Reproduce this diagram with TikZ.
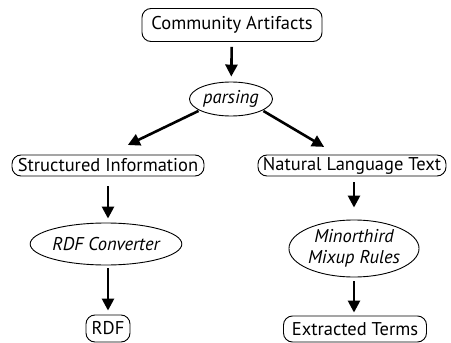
\documentclass[tikz,border=0pt]{standalone}
\usepackage{fontspec}
\setmainfont{PT Sans}
\usetikzlibrary{shapes.geometric,arrows.meta}

\begin{document}
\begin{tikzpicture}[x=1pt,y=-1pt,
	artifact/.style={draw,line width=0.9pt,rounded corners=9pt,inner sep=1pt,font=\fontsize{18.5}{20}\selectfont},
	process/.style={draw,ellipse,line width=0.9pt,inner sep=0pt,align=center,font=\itshape\fontsize{18.5}{21}\selectfont},
	flow/.style={line width=2.6pt,-{Triangle[length=12pt,width=12pt]}}]
			%%%%% START %%%%%
			\def\xmid{232}
			\def\xleft{108}
			\def\xright{352}
			\useasboundingbox (0,0) rectangle (451,343);
			
			\node[artifact,minimum width=180pt,minimum height=33pt] (community) at (\xmid,25) {Community Artifacts};
			\node[process,minimum width=83pt,minimum height=34pt] (parsing) at (231,99) {parsing};
			
			\node[artifact,minimum width=192pt,minimum height=21pt] (structured) at (\xleft,165.5) {Structured Information};
			\node[artifact,minimum width=188pt,minimum height=21pt] (natural) at (\xright,165.5) {Natural Language Text};
			
			\node[process,minimum width=122pt,minimum height=42pt] (converter) at (106,244) {RDF Converter};
			\node[process,minimum width=117pt,minimum height=57pt] (mixup) at (354,248.5) {Minorthird\\Mixup Rules};
			
			\node[artifact,minimum width=44pt,minimum height=27pt] (rdf) at (\xleft,328.5) {RDF};
			\node[artifact,minimum width=143pt,minimum height=26pt] (terms) at (355,329) {Extracted Terms};
			
			\draw[flow,shorten <=5pt,shorten >=5pt] (community) -- (parsing);
			\draw[flow,shorten <=1pt,shorten >=22pt] (parsing.200) -- (structured.north);
			\draw[flow,shorten <=1pt,shorten >=15pt] (parsing.-20) -- ([xshift=-15pt]natural.north);
			\draw[flow,shorten <=10pt,shorten >=4pt] (structured.south) -- (structured.south |- converter.north);
			\draw[flow,shorten <=6pt,shorten >=12pt] (mixup.north |- natural.south) -- (mixup.north);
			\draw[flow,shorten <=3pt,shorten >=4pt] (rdf.north |- converter.south) -- (rdf.north);
			\draw[flow,shorten <=4pt,shorten >=3pt] (mixup.south) -- (terms.north -| mixup.south);
			%%%%% END %%%%%
\end{tikzpicture}
\end{document}
